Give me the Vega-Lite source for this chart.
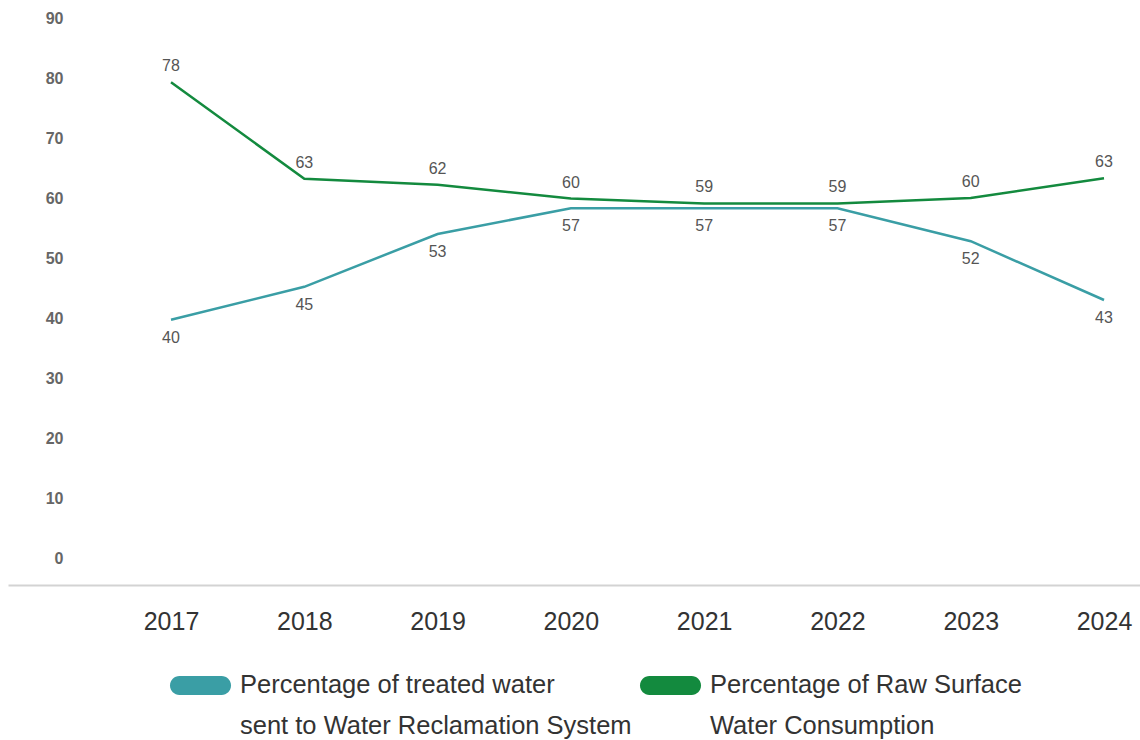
{
  "$schema": "https://vega.github.io/schema/vega-lite/v6.json",
  "width": 1132,
  "height": 540,
  "padding": {"left": 8, "top": 10, "right": 0, "bottom": 0},
  "background": "white",
  "config": {
    "view": {"stroke": null},
    "font": "Liberation Sans"
  },
  "data": {
    "values": [
      {"year": 2017, "series": "Percentage of treated water sent to Water Reclamation System", "value": 39.7, "label": "40"},
      {"year": 2018, "series": "Percentage of treated water sent to Water Reclamation System", "value": 45.2, "label": "45"},
      {"year": 2019, "series": "Percentage of treated water sent to Water Reclamation System", "value": 54.0, "label": "53"},
      {"year": 2020, "series": "Percentage of treated water sent to Water Reclamation System", "value": 58.3, "label": "57"},
      {"year": 2021, "series": "Percentage of treated water sent to Water Reclamation System", "value": 58.3, "label": "57"},
      {"year": 2022, "series": "Percentage of treated water sent to Water Reclamation System", "value": 58.3, "label": "57"},
      {"year": 2023, "series": "Percentage of treated water sent to Water Reclamation System", "value": 52.8, "label": "52"},
      {"year": 2024, "series": "Percentage of treated water sent to Water Reclamation System", "value": 43.0, "label": "43"},
      {"year": 2017, "series": "Percentage of Raw Surface Water Consumption", "value": 79.3, "label": "78"},
      {"year": 2018, "series": "Percentage of Raw Surface Water Consumption", "value": 63.2, "label": "63"},
      {"year": 2019, "series": "Percentage of Raw Surface Water Consumption", "value": 62.2, "label": "62"},
      {"year": 2020, "series": "Percentage of Raw Surface Water Consumption", "value": 59.9, "label": "60"},
      {"year": 2021, "series": "Percentage of Raw Surface Water Consumption", "value": 59.1, "label": "59"},
      {"year": 2022, "series": "Percentage of Raw Surface Water Consumption", "value": 59.1, "label": "59"},
      {"year": 2023, "series": "Percentage of Raw Surface Water Consumption", "value": 60.0, "label": "60"},
      {"year": 2024, "series": "Percentage of Raw Surface Water Consumption", "value": 63.3, "label": "63"}
    ]
  },
  "encoding": {
    "x": {
      "field": "year",
      "type": "quantitative",
      "scale": {"domain": [2015.777, 2024.27], "nice": false, "zero": false},
      "axis": {
        "title": null,
        "values": [2017, 2018, 2019, 2020, 2021, 2022, 2023, 2024],
        "format": "d",
        "grid": false,
        "ticks": false,
        "offset": 27,
        "domainColor": "#d3d3d3",
        "domainWidth": 2,
        "labelFontSize": 25,
        "labelColor": "#333333",
        "labelPadding": 24,
        "labelFlush": false
      }
    },
    "y": {
      "field": "value",
      "type": "quantitative",
      "scale": {"domain": [0, 90], "nice": false},
      "axis": {
        "title": null,
        "values": [0, 10, 20, 30, 40, 50, 60, 70, 80, 90],
        "grid": false,
        "ticks": false,
        "domain": false,
        "labelAlign": "right",
        "labelPadding": -55,
        "labelFontSize": 16,
        "labelColor": "#666666",
        "labelFontWeight": 600
      }
    },
    "color": {
      "field": "series",
      "type": "nominal",
      "scale": {
        "domain": ["Percentage of treated water sent to Water Reclamation System", "Percentage of Raw Surface Water Consumption"],
        "range": ["#3a9ea5", "#138a3e"]
      },
      "legend": {
        "title": null,
        "orient": "none",
        "legendX": 162,
        "legendY": 637,
        "direction": "horizontal",
        "columns": 2,
        "columnPadding": 8,
        "symbolType": "M-0.69,-0.31 L0.69,-0.31 A0.31,0.31 0 0 1 0.69,0.31 L-0.69,0.31 A0.31,0.31 0 0 1 -0.69,-0.31 Z",
        "symbolSize": 3721,
        "symbolStrokeWidth": 0,
        "labelFontSize": 25.5,
        "labelColor": "#333333",
        "labelLimit": 600,
        "labelOffset": 9,
        "labelExpr": "datum.label == 'Percentage of Raw Surface Water Consumption' ? ['Percentage of Raw Surface', 'Water Consumption'] : ['Percentage of treated water', 'sent to Water Reclamation System']",
        "encode": {
          "symbols": {"update": {"fill": {"scale": "color", "field": "value"}, "stroke": {"value": "transparent"}}},
          "labels": {"update": {"lineHeight": {"value": 41}, "baseline": {"value": "top"}, "dy": {"value": -13}}}
        }
      }
    }
  },
  "layer": [
    {
      "transform": [{"filter": "datum.series == 'Percentage of treated water sent to Water Reclamation System'"}],
      "mark": {"type": "line", "strokeWidth": 2.5, "interpolate": "linear"}
    },
    {
      "transform": [{"filter": "datum.series == 'Percentage of Raw Surface Water Consumption'"}],
      "mark": {"type": "line", "strokeWidth": 2.5, "interpolate": "linear"}
    },
    {
      "transform": [{"filter": "datum.series == 'Percentage of treated water sent to Water Reclamation System'"}],
      "mark": {"type": "text", "dy": 18, "fontSize": 16, "color": "#555555"},
      "encoding": {"text": {"field": "label"}, "color": {"value": "#555555"}}
    },
    {
      "transform": [{"filter": "datum.series == 'Percentage of Raw Surface Water Consumption'"}],
      "mark": {"type": "text", "dy": -16, "fontSize": 16, "color": "#555555"},
      "encoding": {"text": {"field": "label"}, "color": {"value": "#555555"}}
    }
  ]
}
